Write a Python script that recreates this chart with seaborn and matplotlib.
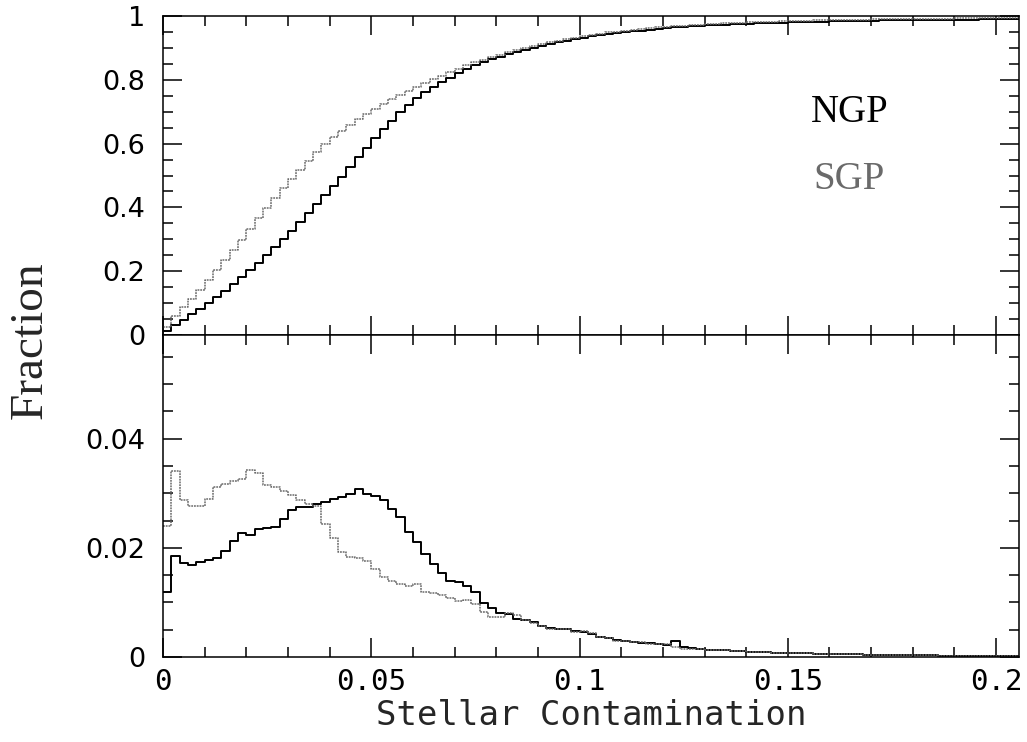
import numpy as np
import pandas as pd
import matplotlib
matplotlib.use("Agg")
import matplotlib.pyplot as plt
import seaborn as sns
from matplotlib.ticker import MultipleLocator, FuncFormatter

# ---------------- data (fraction per 0.002-wide bin of stellar contamination) -------------
bin_edges = np.round(np.arange(0, 0.2061, 0.002), 4)

ngp_frac = [
    0.0119, 0.0185, 0.0172, 0.0169, 0.0174, 0.0178, 0.0182, 0.0195, 0.0212, 0.0227,
    0.0224, 0.0234, 0.0236, 0.0239, 0.0253, 0.0270, 0.0275, 0.0275, 0.0280, 0.0284,
    0.0289, 0.0293, 0.0299, 0.0308, 0.0299, 0.0295, 0.0287, 0.0271, 0.0256, 0.0229,
    0.0210, 0.0188, 0.0171, 0.0154, 0.0139, 0.0138, 0.0130, 0.0119, 0.0099, 0.0090,
    0.0081, 0.0078, 0.0070, 0.0068, 0.0065, 0.0057, 0.0054, 0.0052, 0.0051, 0.0048,
    0.0045, 0.0042, 0.0037, 0.0034, 0.0031, 0.0029, 0.0028, 0.0026, 0.0025, 0.0024,
    0.0022, 0.0029, 0.0018, 0.0016, 0.0014, 0.0013, 0.0012, 0.0012, 0.0011, 0.0011,
    0.0010, 0.0009, 0.0009, 0.0008, 0.0008, 0.0007, 0.0007, 0.0007, 0.0006, 0.0006,
    0.0006, 0.0005, 0.0005, 0.0005, 0.0004, 0.0004, 0.0004, 0.0004, 0.0003, 0.0003,
    0.0003, 0.0003, 0.0003, 0.0002, 0.0002, 0.0002, 0.0002, 0.0002, 0.0002, 0.0001,
    0.0001, 0.0001, 0.0001,
]

sgp_frac = [
    0.0240, 0.0340, 0.0288, 0.0276, 0.0277, 0.0289, 0.0312, 0.0317, 0.0323, 0.0327,
    0.0342, 0.0337, 0.0315, 0.0311, 0.0305, 0.0296, 0.0287, 0.0281, 0.0277, 0.0244,
    0.0218, 0.0193, 0.0184, 0.0182, 0.0175, 0.0161, 0.0147, 0.0140, 0.0133, 0.0131,
    0.0134, 0.0120, 0.0117, 0.0113, 0.0109, 0.0103, 0.0105, 0.0097, 0.0083, 0.0074,
    0.0073, 0.0080, 0.0077, 0.0068, 0.0062, 0.0057, 0.0052, 0.0052, 0.0051, 0.0046,
    0.0047, 0.0044, 0.0036, 0.0035, 0.0030, 0.0030, 0.0027, 0.0027, 0.0024, 0.0024,
    0.0023, 0.0018, 0.0014, 0.0014, 0.0014, 0.0013, 0.0012, 0.0012, 0.0011, 0.0011,
    0.0010, 0.0010, 0.0009, 0.0008, 0.0008, 0.0007, 0.0007, 0.0007, 0.0006, 0.0006,
    0.0006, 0.0005, 0.0005, 0.0005, 0.0004, 0.0004, 0.0004, 0.0004, 0.0003, 0.0003,
    0.0003, 0.0003, 0.0003, 0.0002, 0.0002, 0.0002, 0.0002, 0.0002, 0.0002, 0.0001,
    0.0001, 0.0001, 0.0001,
]

series_labels = ["NGP", "SGP"]
x_label = "Stellar Contamination"
y_label = "Fraction"

bin_centers = (bin_edges[:-1] + bin_edges[1:]) / 2

# ---------------- figure ----------------
sns.set_theme(style="ticks")
plt.rcParams["font.family"] = ["DejaVu Sans"]
plt.rcParams["axes.linewidth"] = 1.1

W, H = 1027, 742
fig = plt.figure(figsize=(W / 100, H / 100), dpi=100)
L, R = 163, 1019
T, M, B = 16, 335, 657
ax_top = fig.add_axes([L / W, 1 - M / H, (R - L) / W, (M - T) / H])
ax_bot = fig.add_axes([L / W, 1 - B / H, (R - L) / W, (B - M) / H], sharex=ax_top)

styles = {
    "NGP": dict(color="black", linewidth=1.4, linestyle="-"),
    "SGP": dict(color="#6a6a6a", linewidth=1.1, linestyle=(0, (1.2, 0.6))),
}
data = {"NGP": ngp_frac, "SGP": sgp_frac}

for name in series_labels:
    df = pd.DataFrame({"contam": bin_centers, "frac": np.asarray(data[name], dtype=float)})
    sns.histplot(data=df, x="contam", weights="frac", bins=list(bin_edges), stat="count",
                 element="step", fill=False, cumulative=True, ax=ax_top, **styles[name])
    sns.histplot(data=df, x="contam", weights="frac", bins=list(bin_edges), stat="count",
                 element="step", fill=False, cumulative=False, ax=ax_bot, **styles[name])

ax_top.set_xlim(0, 0.2055)
ax_top.set_ylim(0, 1)
ax_bot.set_ylim(0, 0.059)

fmt = FuncFormatter(lambda v, p: f"{v:g}")
for ax in (ax_top, ax_bot):
    ax.set_xlabel("")
    ax.set_ylabel("")
    ax.xaxis.set_major_locator(MultipleLocator(0.05))
    ax.xaxis.set_minor_locator(MultipleLocator(0.01))
    ax.yaxis.set_major_formatter(fmt)
    ax.tick_params(which="both", direction="in", top=True, right=True, width=1.1, colors="black")
    ax.tick_params(which="major", length=14)
    ax.tick_params(which="minor", length=7)
    ax.tick_params(axis="y", which="major", pad=13, labelsize=19.5)
    for sp in ax.spines.values():
        sp.set_color("black")

ax_top.yaxis.set_major_locator(MultipleLocator(0.2))
ax_top.yaxis.set_minor_locator(MultipleLocator(0.05))
ax_bot.yaxis.set_major_locator(MultipleLocator(0.02))
ax_bot.yaxis.set_minor_locator(MultipleLocator(0.005))

ax_top.tick_params(axis="x", labelbottom=False)
ax_bot.xaxis.set_major_formatter(fmt)
ax_bot.tick_params(axis="x", which="major", pad=8, labelsize=21)
for lab in ax_bot.get_xticklabels():
    lab.set_family("DejaVu Sans Mono")

ax_bot.set_xlabel(x_label, fontsize=24.5, family="DejaVu Sans Mono", labelpad=2)
fig.text(30 / W, 1 - 340 / H, y_label, rotation=90, ha="center", va="center",
         fontsize=34, family="Liberation Serif")

ax_top.text(0.1649, 0.696, series_labels[0], ha="center", va="center",
            fontsize=28, family="Liberation Serif", color="black")
ax_top.text(0.1647, 0.489, series_labels[1], ha="center", va="center",
            fontsize=28, family="Liberation Serif", color="#6a6a6a")

fig.savefig("out.png", dpi=100)
